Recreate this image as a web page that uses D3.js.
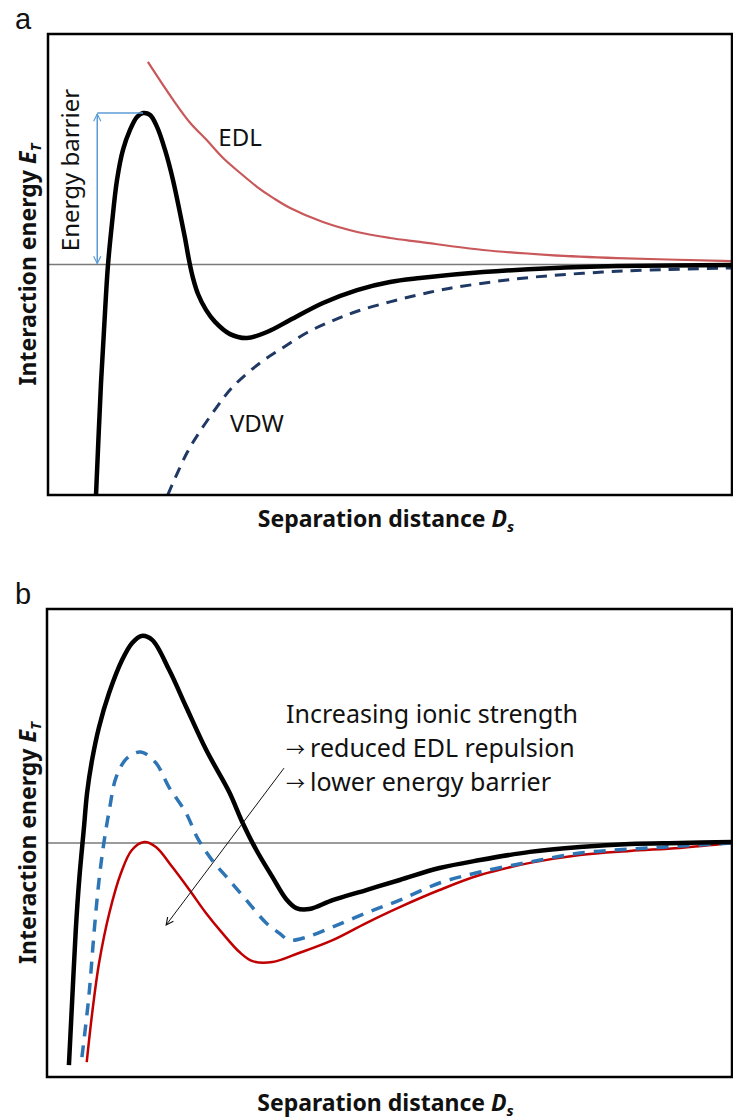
<!DOCTYPE html>
<html>
<head>
<meta charset="utf-8">
<script src="https://cdn.jsdelivr.net/npm/d3@7"></script>
<style>
  body { margin: 0; background: #fff; }
  text { font-family: "Noto Sans", "Open Sans", sans-serif; fill: #111; }
</style>
</head>
<body>
<svg id="chart" width="733" height="1120"></svg>
<script>
// curvas DLVO leídas de la figura
// x: distancia de separación (0-100), y: energía de interacción (-10..10, 0 = línea base)

// panel a
const totalA = [[7.02,-10],[7.75,-5.14],[8.19,-2.84],[8.48,-1.32],[8.77,-0.02],[9.36,1.8],[10.09,3.67],
  [10.96,4.97],[11.99,5.84],[13.01,6.4],[13.89,6.57],[14.91,6.49],[15.94,5.97],[17.11,4.97],[18.27,3.67],
  [19.3,2.23],[20.03,1.15],[20.61,0.2],[21.2,-0.59],[21.93,-1.28],[23.1,-1.97],[24.42,-2.49],[26.61,-3.02],
  [29.09,-3.19],[32.02,-2.93],[35.38,-2.41],[40.2,-1.67],[45.18,-1.11],[50.0,-0.76],[54.39,-0.59],
  [63.6,-0.33],[73.39,-0.16],[83.19,-0.07],[100,-0.02]];
const edlA = [[14.6,8.79],[18.3,7.14],[20.8,6.14],[23.2,5.4],[25.6,4.62],[28.1,3.97],[30.6,3.36],
  [32.9,2.89],[35.4,2.45],[40.2,1.84],[45.2,1.41],[50.0,1.15],[54.4,0.98],[63.6,0.63],[73.4,0.41],
  [83.2,0.28],[100,0.15]];
const vdwA = [[17.5,-10],[20.3,-8.18],[22.2,-7.25],[24.7,-6.18],[27.0,-5.31],[31.0,-4.27],[34.4,-3.6],
  [37.9,-2.95],[41.5,-2.45],[45.2,-2.03],[50.0,-1.62],[54.4,-1.3],[58.8,-1.03],[68.6,-0.62],[78.2,-0.38],
  [88.0,-0.24],[100,-0.15]];
const barrierX = 7.2;

// panel b: fuerza iónica baja, media, alta
const lowB = [[3.2,-9.49],[3.7,-6.58],[4.2,-3.72],[4.7,-1.58],[5.4,0.68],[5.85,2.14],[6.58,3.55],
  [7.6,4.96],[9.06,6.41],[10.96,7.82],[12.43,8.55],[13.8,8.85],[15.35,8.68],[17.84,7.39],[20.32,5.81],
  [23.25,3.97],[26.6,2.18],[28.5,0.9],[30.56,-0.3],[32.9,-1.45],[34.9,-2.39],[36.4,-2.78],[38.3,-2.82],
  [41.7,-2.44],[46.6,-2.01],[51.5,-1.58],[57.3,-1.07],[63.2,-0.73],[70.5,-0.38],[77.8,-0.17],[85.1,-0.04],
  [92.4,0],[100,0.04]];
const midB = [[5.1,-9.15],[6.1,-6.58],[6.9,-3.72],[7.6,-1.58],[8.3,0],[9.1,1.41],[10.1,2.82],[11.7,3.63],
  [13.7,3.89],[15.9,3.42],[17.8,2.39],[20.3,1.28],[22.0,0.2],[24.1,-0.73],[26.6,-1.58],[29.1,-2.44],
  [32.0,-3.42],[33.9,-3.85],[35.4,-4.15],[37.9,-4.02],[41.7,-3.59],[46.6,-2.99],[51.5,-2.44],[57.3,-1.71],
  [63.2,-1.24],[70.5,-0.81],[77.8,-0.43],[85.1,-0.26],[92.4,-0.13],[100,0]];
const highB = [[5.8,-9.36],[6.6,-7.26],[7.6,-5.13],[9.1,-2.99],[10.8,-1.28],[12.4,-0.3],[14.2,0.04],
  [15.9,-0.17],[18.3,-1.03],[20.8,-2.01],[23.2,-2.99],[25.6,-3.85],[28.1,-4.66],[30.0,-5.05],[32.9,-5.09],
  [36.8,-4.7],[41.7,-4.15],[46.6,-3.42],[51.5,-2.74],[57.3,-2.01],[63.2,-1.37],[70.5,-0.85],[77.8,-0.51],
  [85.1,-0.34],[92.4,-0.21],[100,0]];
const arrowB = [[34.6,3.2],[17.4,-3.5]];
const notesB = [["", "Increasing ionic strength"], ["\u2192", "reduced EDL repulsion"], ["\u2192", "lower energy barrier"]];

const svg = d3.select("#chart");
const defs = svg.append("defs");

function marker(id, color) {
  defs.append("marker")
    .attr("id", id)
    .attr("viewBox", "0 0 10 10")
    .attr("refX", 9).attr("refY", 5)
    .attr("markerWidth", 9).attr("markerHeight", 9)
    .attr("markerUnits", "userSpaceOnUse")
    .attr("orient", "auto-start-reverse")
    .append("path")
    .attr("d", "M1,1 L9,5 L1,9")
    .attr("fill", "none")
    .attr("stroke", color)
    .attr("stroke-width", 1.3);
}
marker("arrBlue", "#5b9bd5");
marker("arrBlack", "#111");

// dibuja un panel: marco, línea cero, títulos
function panel(box, letter) {
  const x = d3.scaleLinear().domain([0, 100]).range([box.left, box.right]);
  const y = d3.scaleLinear().domain([-10, 10]).range([box.bottom, box.top]);
  const g = svg.append("g");

  defs.append("clipPath").attr("id", "clip" + letter)
    .append("rect")
    .attr("x", box.left).attr("y", box.top)
    .attr("width", box.right - box.left).attr("height", box.bottom - box.top);

  // línea cero
  g.append("line")
    .attr("x1", x(0)).attr("x2", x(100))
    .attr("y1", y(0)).attr("y2", y(0))
    .attr("stroke", "#7a7a7a").attr("stroke-width", 1.5);

  const curves = g.append("g").attr("clip-path", `url(#clip${letter})`);

  g.append("rect")
    .attr("x", box.left).attr("y", box.top)
    .attr("width", box.right - box.left).attr("height", box.bottom - box.top)
    .attr("fill", "none").attr("stroke", "#000").attr("stroke-width", 2.5);

  svg.append("text")
    .attr("x", 15).attr("y", box.top - 5)
    .style("font-family", "'Liberation Sans', Arial, sans-serif")
    .style("font-size", "29px")
    .text(letter);

  // título eje y
  const yt = svg.append("text")
    .attr("transform", `translate(36,${(box.top + box.bottom) / 2}) rotate(-90)`)
    .attr("text-anchor", "middle")
    .style("font-size", "23px").style("font-weight", "bold");
  yt.append("tspan").text("Interaction energy ");
  yt.append("tspan").style("font-style", "italic").text("E");
  yt.append("tspan").style("font-style", "italic").style("font-size", "15px").attr("dy", 5).text("T");

  // título eje x
  const xt = svg.append("text")
    .attr("x", (box.left + box.right) / 2 - 4).attr("y", box.bottom + box.titleGap)
    .attr("text-anchor", "middle")
    .style("font-size", "23px").style("font-weight", "bold");
  xt.append("tspan").text("Separation distance ");
  xt.append("tspan").style("font-style", "italic").text("D");
  xt.append("tspan").style("font-style", "italic").style("font-size", "15px").attr("dy", 5).text("s");

  const line = d3.line()
    .x(d => x(d[0]))
    .y(d => y(d[1]))
    .curve(d3.curveCatmullRom.alpha(0.5));

  return { x, y, g, curves, line };
}

// ---- panel a ----
const pa = panel({ left: 48, right: 732, top: 34, bottom: 495, titleGap: 32 }, "a");

pa.curves.append("path").datum(edlA)
  .attr("d", pa.line).attr("fill", "none")
  .attr("stroke", "#c9585a").attr("stroke-width", 2.2);

pa.curves.append("path").datum(vdwA)
  .attr("d", pa.line).attr("fill", "none")
  .attr("stroke", "#1f3864").attr("stroke-width", 3)
  .attr("stroke-dasharray", "11,8");

pa.curves.append("path").datum(totalA)
  .attr("d", pa.line).attr("fill", "none")
  .attr("stroke", "#000").attr("stroke-width", 4.5)
  .attr("stroke-linejoin", "round");

// barrera de energía: desde la línea cero hasta el máximo
const peakA = totalA.reduce((a, b) => (b[1] > a[1] ? b : a));
pa.g.append("line")
  .attr("x1", pa.x(barrierX)).attr("x2", pa.x(peakA[0]))
  .attr("y1", pa.y(peakA[1])).attr("y2", pa.y(peakA[1]))
  .attr("stroke", "#5b9bd5").attr("stroke-width", 1.5);
pa.g.append("line")
  .attr("x1", pa.x(barrierX)).attr("x2", pa.x(barrierX))
  .attr("y1", pa.y(0) - 1).attr("y2", pa.y(peakA[1]) + 1)
  .attr("stroke", "#5b9bd5").attr("stroke-width", 1.5)
  .attr("marker-start", "url(#arrBlue)")
  .attr("marker-end", "url(#arrBlue)");

pa.g.append("text")
  .attr("transform", `translate(79,${pa.y(4.1)}) rotate(-90)`)
  .attr("text-anchor", "middle")
  .style("font-size", "24px")
  .text("Energy barrier");

pa.g.append("text")
  .attr("x", pa.x(24.9)).attr("y", pa.y(5.14))
  .style("font-size", "24px").text("EDL");

pa.g.append("text")
  .attr("x", pa.x(26.6)).attr("y", pa.y(-7.27))
  .style("font-size", "24px").text("VDW");

// ---- panel b ----
const pb = panel({ left: 47, right: 732, top: 609, bottom: 1077, titleGap: 34 }, "b");

pb.curves.append("path").datum(highB)
  .attr("d", pb.line).attr("fill", "none")
  .attr("stroke", "#c00000").attr("stroke-width", 2.5);

pb.curves.append("path").datum(midB)
  .attr("d", pb.line).attr("fill", "none")
  .attr("stroke", "#2e75b6").attr("stroke-width", 3.5)
  .attr("stroke-dasharray", "12,9");

pb.curves.append("path").datum(lowB)
  .attr("d", pb.line).attr("fill", "none")
  .attr("stroke", "#000").attr("stroke-width", 4.5)
  .attr("stroke-linejoin", "round");

pb.g.append("line")
  .attr("x1", pb.x(arrowB[0][0])).attr("y1", pb.y(arrowB[0][1]))
  .attr("x2", pb.x(arrowB[1][0])).attr("y2", pb.y(arrowB[1][1]))
  .attr("stroke", "#111").attr("stroke-width", 1)
  .attr("marker-end", "url(#arrBlack)");

const notes = pb.g.selectAll(".note").data(notesB).enter()
  .append("text")
  .attr("class", "note")
  .attr("x", pb.x(34.9))
  .attr("y", (d, i) => pb.y(5.13) + i * 34)
  .style("font-size", "25px");
// flecha con una fuente de glifo más ancho
notes.append("tspan")
  .style("font-family", "'Noto Sans CJK SC', sans-serif")
  .style("font-size", "19px")
  .text(d => d[0]);
notes.append("tspan")
  .attr("dx", d => (d[0] ? 5 : 0))
  .text(d => d[1]);
</script>
</body>
</html>
